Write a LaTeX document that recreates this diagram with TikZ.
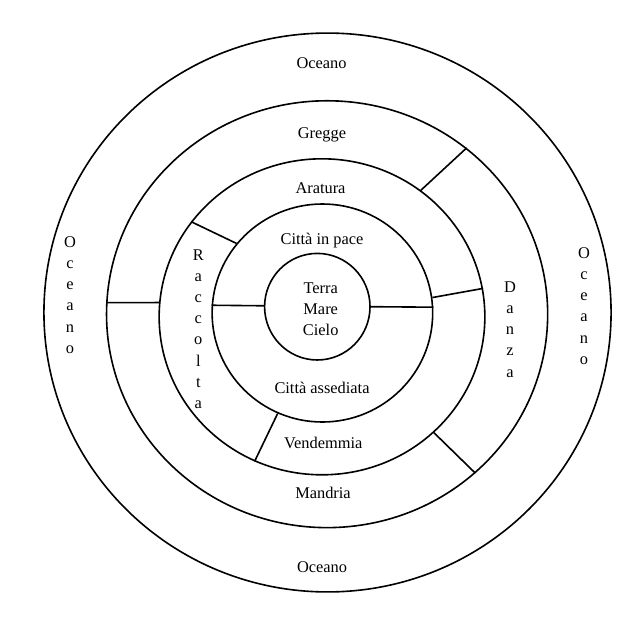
\documentclass[tikz,border=0pt]{standalone}
\usepackage{fontspec}
\setmainfont{Liberation Serif}
\usetikzlibrary{shapes.geometric}

\tikzset{
  ring/.style={draw, ellipse, inner sep=0pt, line width=1.6pt},
  label/.style={font=\fontsize{16.3}{21.1}\selectfont, inner sep=0pt, align=center},
  divider/.style={line width=1.6pt}
}

\begin{document}
\begin{tikzpicture}[x=0.35mm,y=-0.35mm]
        \useasboundingbox (0,0) rectangle (643,629);
        \node (oceanoring) [ring, minimum width=198.5mm, minimum height=195.6mm] at (327.5,312.5) {};
        \node (greggering) [ring, minimum width=154.4mm, minimum height=149.4mm] at (327.1,314.2) {};
        \node (araturaring) [ring, minimum width=114mm, minimum height=110.6mm] at (322,316.8) {};
        \node (cittaring) [ring, minimum width=77.2mm, minimum height=76.3mm] at (322.4,313) {};
        \node (core) [ring, minimum width=36.9mm, minimum height=37.3mm] at (317.3,306.7) {};

        \draw[divider] (greggering.50.7) -- (araturaring.52.6);
        \draw[divider] (araturaring.-46.7) -- (greggering.-47.9);
        \draw[divider] (greggering.177.6) -- (araturaring.175.8);
        \draw[divider] (araturaring.144) -- (cittaring.141.5);
        \draw[divider] (cittaring.8.9) -- (araturaring.10.7);
        \draw[divider] (cittaring.-114.3) -- (araturaring.-115.4);
        \draw[divider] (cittaring.176.2) -- (core.179);
        \draw[divider] (core.0) -- (cittaring.3.2);

        \node (oceanotop) [label] at (321.5,63) {Oceano};
        \node (oceanobottom) [label] at (322,567.5) {Oceano};
        \node (oceanoleft) [label] at (70,295) {O\\c\\e\\a\\n\\o};
        \node (oceanoright) [label] at (584,306) {O\\c\\e\\a\\n\\o};
        \node (gregge) [label] at (322,135) {Gregge};
        \node (aratura) [label] at (320.5,188) {Aratura};
        \node (pace) [label] at (322,241) {Città in pace};
        \node (terra) [label] at (320.7,309) {Terra\\Mare\\Cielo};
        \node (assediata) [label] at (322,388.3) {Città assediata};
        \node (vendemmia) [label] at (323.3,443) {Vendemmia};
        \node (mandria) [label] at (323,492.8) {Mandria};
        \node (raccolta) [label] at (198.3,329) {R\\a\\c\\c\\o\\l\\t\\a};
        \node (danza) [label] at (510,329.5) {D\\a\\n\\z\\a};
\end{tikzpicture}
\end{document}
